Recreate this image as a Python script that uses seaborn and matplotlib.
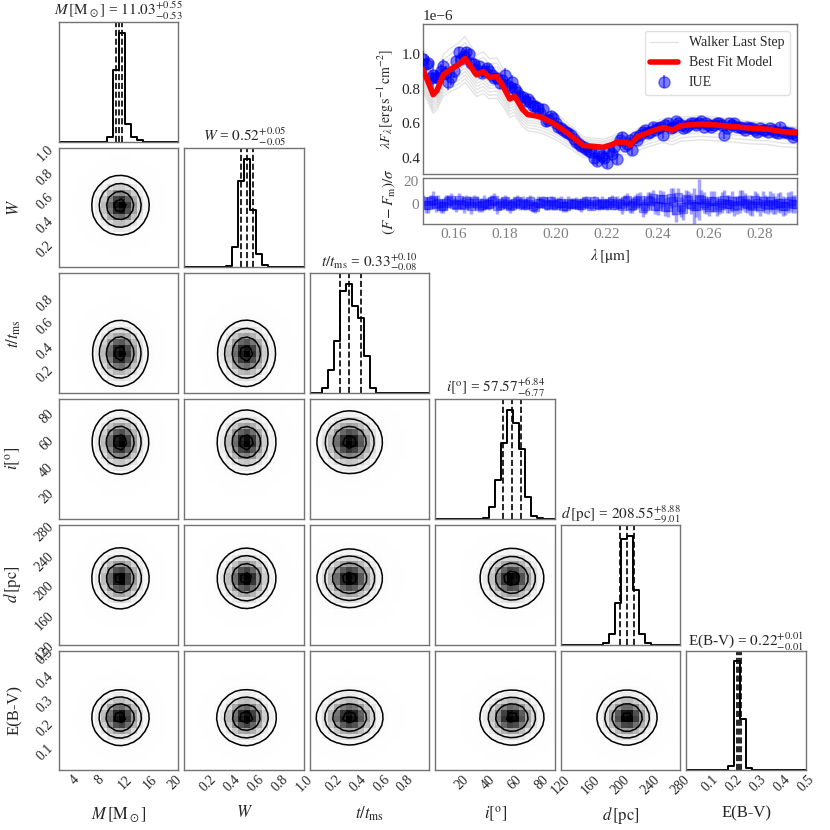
import numpy as np
import matplotlib
matplotlib.use('Agg')
import matplotlib.pyplot as plt
from matplotlib.colors import LinearSegmentedColormap
import seaborn as sns

# ---- corner plot values ----
labels = [r'$M\,[\rm M_\odot]$', r'$W$', r'$t/t_{\rm ms}$', r'$i[^{\rm o}]$', r'$d\,[\rm pc]$', 'E(B-V)']
medians = [11.03, 0.52, 0.33, 57.57, 208.55, 0.22]
err_up = [0.55, 0.05, 0.10, 6.84, 8.88, 0.01]
err_lo = [0.53, 0.05, 0.08, 6.77, 9.01, 0.01]
ranges = [(1.5, 20.5), (0.0, 1.0), (0.0, 1.0), (0.0, 90.0), (120.0, 280.0), (0.0, 0.5)]
ticks = [[4, 8, 12, 16, 20],
         [0.2, 0.4, 0.6, 0.8, 1.0],
         [0.2, 0.4, 0.6, 0.8],
         [20, 40, 60, 80],
         [120, 160, 200, 240, 280],
         [0.1, 0.2, 0.3, 0.4, 0.5]]
tick_labels = [['4', '8', '12', '16', '20'],
               ['0.2', '0.4', '0.6', '0.8', '1.0'],
               ['0.2', '0.4', '0.6', '0.8'],
               ['20', '40', '60', '80'],
               ['120', '160', '200', '240', '280'],
               ['0.1', '0.2', '0.3', '0.4', '0.5']]

# 1D histograms (20 bins over each range), first non-empty bin and heights
hist_start = [8, 7, 2, 8, 7, 7]
hist_M = [0.046, 0.66, 1.0, 0.16, 0.046, 0.012]
hist_W = [0.01, 0.19, 0.79, 1.0, 0.53, 0.12, 0.02, 0.005]
hist_t = [0.046, 0.216, 0.48, 0.94, 1.0, 0.80, 0.69, 0.34, 0.046]
hist_i = [0.01, 0.105, 0.36, 0.70, 1.0, 0.88, 0.64, 0.20, 0.025, 0.006]
hist_d = [0.01, 0.10, 0.38, 0.97, 1.0, 0.50, 0.10, 0.01]
hist_E = [0.037, 1.0, 0.47, 0.016]
hist_vals = [hist_M, hist_W, hist_t, hist_i, hist_d, hist_E]
nbins = 20
smooth = 2.25

# ---- SED values (flux in 1e-6 erg/s/cm2) ----
iue_wave = [0.148, 0.150, 0.152, 0.154, 0.156, 0.158, 0.160, 0.162, 0.164, 0.166,
            0.168, 0.170, 0.172, 0.174, 0.176, 0.178, 0.180, 0.182, 0.184, 0.186,
            0.188, 0.190, 0.192, 0.194, 0.196, 0.198, 0.200, 0.202, 0.204, 0.206,
            0.208, 0.210, 0.212, 0.214, 0.216, 0.218, 0.220, 0.222, 0.224, 0.226,
            0.228, 0.230, 0.232, 0.234, 0.236, 0.238, 0.240, 0.242, 0.244, 0.246,
            0.248, 0.250, 0.252, 0.254, 0.256, 0.258, 0.260, 0.262, 0.264, 0.266,
            0.268, 0.270, 0.272, 0.274, 0.276, 0.278, 0.280, 0.282, 0.284, 0.286,
            0.288, 0.290, 0.292, 0.294,
            0.149, 0.151, 0.153, 0.155, 0.157, 0.159, 0.161, 0.163, 0.165, 0.167,
            0.169, 0.171, 0.173, 0.175, 0.177, 0.179, 0.181, 0.183, 0.185, 0.187,
            0.189, 0.191, 0.193, 0.195, 0.197, 0.199, 0.201, 0.203, 0.205, 0.207,
            0.209, 0.211, 0.213, 0.215, 0.217, 0.219, 0.221, 0.223, 0.225, 0.227,
            0.229, 0.231, 0.233, 0.235, 0.237, 0.239, 0.241, 0.243, 0.245, 0.247,
            0.249, 0.251, 0.253, 0.255, 0.257, 0.259, 0.261, 0.263, 0.265, 0.267,
            0.269, 0.271, 0.273, 0.275, 0.277, 0.279, 0.281, 0.283, 0.285, 0.287,
            0.289, 0.291, 0.293]
iue_flux = [0.97, 0.95, 0.88, 0.86, 0.93, 0.84, 0.90, 1.01, 0.99, 1.00,
            0.94, 0.93, 0.90, 0.90, 0.86, 0.83, 0.88, 0.81, 0.80, 0.76,
            0.73, 0.72, 0.70, 0.66, 0.61, 0.64, 0.60, 0.57, 0.55, 0.53,
            0.49, 0.47, 0.45, 0.43, 0.38, 0.41, 0.37, 0.42, 0.39, 0.52,
            0.48, 0.445, 0.50, 0.55, 0.54, 0.58, 0.57, 0.53, 0.60, 0.58,
            0.60, 0.57, 0.59, 0.60, 0.60, 0.58, 0.59, 0.59, 0.60, 0.53,
            0.60, 0.60, 0.58, 0.56, 0.57, 0.56, 0.57, 0.56, 0.57, 0.55,
            0.58, 0.55, 0.54, 0.53,
            0.94, 0.86, 0.87, 0.90, 0.89, 0.87, 0.96, 0.97, 1.01, 0.95,
            0.91, 0.89, 0.92, 0.88, 0.86, 0.85, 0.82, 0.84, 0.78, 0.75,
            0.74, 0.70, 0.69, 0.68, 0.62, 0.63, 0.58, 0.56, 0.54, 0.51,
            0.48, 0.46, 0.44, 0.40, 0.42, 0.40, 0.44, 0.46, 0.50, 0.47,
            0.50, 0.52, 0.53, 0.56, 0.55, 0.56, 0.58, 0.59, 0.57, 0.61,
            0.59, 0.58, 0.60, 0.59, 0.61, 0.60, 0.58, 0.60, 0.59, 0.57,
            0.59, 0.58, 0.57, 0.58, 0.57, 0.55, 0.56, 0.55, 0.56, 0.54,
            0.55, 0.54, 0.52]
iue_err = [0.05, 0.04, 0.08, 0.05, 0.04, 0.05, 0.04, 0.03, 0.03, 0.03,
           0.03, 0.03, 0.03, 0.04, 0.03, 0.03, 0.04, 0.03, 0.03, 0.04,
           0.03, 0.03, 0.03, 0.03, 0.03, 0.03, 0.03, 0.03, 0.03, 0.03,
           0.02, 0.02, 0.03, 0.02, 0.03, 0.02, 0.03, 0.02, 0.03, 0.03,
           0.02, 0.03, 0.02, 0.02, 0.02, 0.02, 0.02, 0.02, 0.02, 0.02,
           0.02, 0.02, 0.02, 0.02, 0.02, 0.02, 0.02, 0.02, 0.02, 0.02,
           0.02, 0.02, 0.02, 0.02, 0.02, 0.02, 0.02, 0.02, 0.02, 0.02,
           0.02, 0.02, 0.02, 0.02,
           0.06, 0.05, 0.04, 0.04, 0.04, 0.05, 0.03, 0.03, 0.03, 0.03,
           0.03, 0.03, 0.03, 0.03, 0.03, 0.03, 0.03, 0.04, 0.03, 0.03,
           0.03, 0.03, 0.03, 0.03, 0.03, 0.03, 0.03, 0.02, 0.02, 0.02,
           0.02, 0.02, 0.02, 0.03, 0.02, 0.03, 0.02, 0.03, 0.02, 0.02,
           0.02, 0.02, 0.02, 0.02, 0.02, 0.02, 0.02, 0.02, 0.02, 0.02,
           0.02, 0.02, 0.02, 0.02, 0.02, 0.02, 0.02, 0.02, 0.02, 0.02,
           0.02, 0.02, 0.02, 0.02, 0.02, 0.02, 0.02, 0.02, 0.02, 0.02,
           0.02, 0.02, 0.02]
resid = [2, -1, 3, 1, -2, 2, 0, 3, -1, 1,
         2, -2, 1, 0, 3, -1, 2, -2, 1, 0,
         -1, 2, -3, 1, 0, 2, -1, 1, -2, 0,
         1, -1, 2, -2, 0, 1, -1, 2, 1, -2,
         3, -1, 2, -4, 3, 5, -2, 4, -3, 2,
         6, -5, 3, -2, 4, 1, -3, 2, -1, 3,
         0, -2, 2, 1, -1, 3, -2, 0, 2, -1,
         1, -2, 2, 0,
         -1, 2, 0, -2, 1, 3, -1, 0, 2, -2,
         1, -1, 0, 2, -2, 1, 0, -1, 2, 1,
         0, -2, 1, 2, -1, 0, 1, -2, 1, 0,
         -1, 1, 0, 2, -1, 0, 1, -1, 0, 2,
         -2, 1, 3, -2, 2, -2, 4, -3, 5, -6,
         -3, 4, 0, -2, 3, -1, 2, -3, 1, 0,
         2, -1, 3, 0, -2, 1, 2, -1, 0, 1,
         -2, 1, 0]
resid_err = [6, 7, 8, 7, 6, 6, 5, 6, 7, 6,
             6, 5, 7, 6, 6, 5, 6, 6, 5, 6,
             5, 6, 5, 5, 6, 5, 5, 6, 5, 5,
             5, 6, 5, 4, 5, 6, 5, 6, 6, 7,
             6, 7, 7, 8, 7, 7, 8, 7, 9, 12,
             8, 9, 8, 16, 18, 9, 8, 9, 8, 9,
             8, 9, 10, 8, 9, 8, 9, 8, 9, 8,
             9, 8, 9, 8,
             7, 6, 7, 6, 7, 6, 6, 5, 6, 7,
             6, 6, 5, 6, 7, 5, 6, 5, 6, 6,
             5, 5, 6, 5, 5, 6, 5, 5, 6, 5,
             5, 5, 4, 5, 5, 4, 5, 5, 5, 6,
             6, 7, 7, 7, 8, 7, 8, 8, 9, 10,
             9, 8, 9, 10, 9, 8, 9, 8, 9, 8,
             9, 8, 9, 8, 9, 8, 9, 8, 9, 8,
             9, 9, 8]
model_wave = [0.148, 0.150, 0.152, 0.1535, 0.156, 0.1586, 0.162, 0.1645, 0.169, 0.1716,
              0.174, 0.177, 0.1795, 0.182, 0.184, 0.187, 0.189, 0.193, 0.195, 0.199,
              0.203, 0.207, 0.2108, 0.2147, 0.2186, 0.222, 0.224, 0.228, 0.229, 0.232,
              0.237, 0.242, 0.2457, 0.249, 0.2567, 0.262, 0.2697, 0.2765, 0.283, 0.289,
              0.2945]
model_flux = [0.91, 0.84, 0.765, 0.79, 0.88, 0.91, 0.94, 0.975, 0.88, 0.90,
              0.865, 0.87, 0.81, 0.74, 0.755, 0.68, 0.65, 0.64, 0.63, 0.60,
              0.56, 0.515, 0.47, 0.465, 0.46, 0.475, 0.49, 0.49, 0.47, 0.52,
              0.55, 0.575, 0.56, 0.585, 0.595, 0.59, 0.58, 0.57, 0.565, 0.55,
              0.545]
# walker scalings relative to the model at blue and red ends
walk_blue = [0.86, 0.88, 0.90, 0.92, 0.94, 0.96, 0.98, 1.02, 1.04, 1.07, 1.10, 1.14]
walk_red = [0.84, 0.88, 0.92, 0.95, 0.97, 0.99, 1.00, 1.02, 1.03, 1.04, 1.05, 1.06]

sns.set_style('white')
plt.rcParams['font.family'] = ['Liberation Serif', 'DejaVu Serif']
plt.rcParams['mathtext.fontset'] = 'stix'
plt.rcParams['axes.edgecolor'] = '0.45'
plt.rcParams['axes.linewidth'] = 1.0


def smooth2d(H, s):
    # gaussian smoothing of the 2D histogram (zero outside the range)
    idx = np.arange(H.shape[0])
    K = np.exp(-0.5 * ((idx[:, None] - idx[None, :]) / s) ** 2)
    return K @ H @ K.T


def full_hist(p):
    h = np.zeros(nbins)
    h[hist_start[p]:hist_start[p] + len(hist_vals[p])] = hist_vals[p]
    return h


density_cmap = LinearSegmentedColormap.from_list('density_cmap', ['k', (1, 1, 1, 0)])
levels = 1.0 - np.exp(-0.5 * np.arange(0.5, 2.1, 0.5) ** 2)

fig, axes = plt.subplots(6, 6, figsize=(8.3, 8.3), dpi=100)
fig.subplots_adjust(left=0.071, right=0.971, bottom=0.072, top=0.9735, wspace=0.05, hspace=0.05)

for i in range(6):
    for j in range(6):
        ax = axes[i, j]
        if j > i:
            ax.axis('off')
            continue
        ex = np.linspace(ranges[j][0], ranges[j][1], nbins + 1)
        cx = 0.5 * (ex[1:] + ex[:-1])
        if i == j:
            h = full_hist(j)
            sns.histplot(x=cx, weights=h, bins=list(ex), element='step', fill=False,
                         color='k', linewidth=1.4, ax=ax)
            for q in [medians[j] - err_lo[j], medians[j], medians[j] + err_up[j]]:
                ax.axvline(q, color='k', ls='--', lw=1.2)
            ax.set_ylim(0, 1.1 * h.max())
            ax.set_yticks([])
            ax.set_ylabel('')
            title = labels[j] + r' = ${%.2f}_{-%.2f}^{+%.2f}$' % (medians[j], err_lo[j], err_up[j])
            ax.set_title(title, fontsize=11, pad=3)
        else:
            ey = np.linspace(ranges[i][0], ranges[i][1], nbins + 1)
            cy = 0.5 * (ey[1:] + ey[:-1])
            H = smooth2d(np.outer(full_hist(j), full_hist(i)), smooth)
            Hflat = np.sort(H.ravel())[::-1]
            sm = np.cumsum(Hflat)
            sm /= sm[-1]
            V = np.sort([Hflat[sm <= v][-1] for v in levels])
            ax.pcolormesh(ex, ey, H.max() - H.T, cmap=density_cmap, shading='flat')
            ax.contour(cx, cy, H.T, V, colors='k', linewidths=1.1)
            ax.set_ylim(ranges[i])
            if j == 0:
                ax.set_yticks(ticks[i])
                ax.set_yticklabels(tick_labels[i], rotation=45, fontsize=10)
                ax.set_ylabel(labels[i], fontsize=12)
                ax.yaxis.set_label_coords(-0.3, 0.5)
            else:
                ax.set_yticks(ticks[i])
                ax.set_yticklabels([])
        ax.set_xlim(ranges[j])
        ax.set_xticks(ticks[j])
        if i == 5:
            ax.set_xticklabels(tick_labels[j], rotation=45, fontsize=10)
            ax.set_xlabel(labels[j], fontsize=12)
            ax.xaxis.set_label_coords(0.5, -0.29)
        else:
            ax.set_xticklabels([])
            ax.set_xlabel('')
        ax.tick_params(length=0, pad=2)

# ---- SED inset ----
ax_sed = fig.add_axes([0.5096, 0.7904, 0.4506, 0.1807])
ax_res = fig.add_axes([0.5096, 0.730, 0.4506, 0.0554], sharex=ax_sed)

mw = np.array(model_wave)
mf = np.array(model_flux) * 1e-6
for k, (sb, sr) in enumerate(zip(walk_blue, walk_red)):
    scale = sb + (sr - sb) * (mw - mw[0]) / (mw[-1] - mw[0])
    ax_sed.plot(mw, mf * scale, color='0.5', alpha=0.22, lw=1,
                label='Walker Last Step' if k == 0 else None)
ax_sed.plot(mw, mf, color='red', lw=4, zorder=4, label='Best Fit Model')
ax_sed.errorbar(iue_wave, np.array(iue_flux) * 1e-6, yerr=np.array(iue_err) * 1e-6,
                fmt='o', color='blue', alpha=0.5, ms=8, zorder=3, label='IUE')
ax_sed.set_xlim(0.148, 0.2945)
ax_sed.set_ylim(0.305e-6, 1.175e-6)
ax_sed.set_yticks([0.4e-6, 0.6e-6, 0.8e-6, 1.0e-6])
ax_sed.tick_params(axis='y', labelsize=11, length=0, pad=2)
ax_sed.tick_params(axis='x', labelbottom=False, length=0)
ax_sed.yaxis.get_offset_text().set_fontsize(11)
ax_sed.set_ylabel(r'$\lambda F_\lambda\,[\rm erg\,s^{-1}\,cm^{-2}]$', fontsize=10)
ax_sed.legend(loc='upper right', fontsize=10, frameon=True, edgecolor='0.85')

ax_res.errorbar(iue_wave, resid, yerr=resid_err, fmt='s', color='blue', alpha=0.35,
                ms=6, elinewidth=2.5)
ax_res.set_ylim(-18, 22.5)
ax_res.set_yticks([0, 20])
ax_res.set_xticks([0.16, 0.18, 0.20, 0.22, 0.24, 0.26, 0.28])
ax_res.tick_params(labelsize=11, labelcolor='0.5', length=0, pad=3)
ax_res.set_xlabel(r'$\lambda\,[\rm \mu m]$', fontsize=11)
ax_res.set_ylabel(r'$(F-F_{\rm m})/\sigma$', fontsize=11)

fig.savefig('out.png', dpi=100)
